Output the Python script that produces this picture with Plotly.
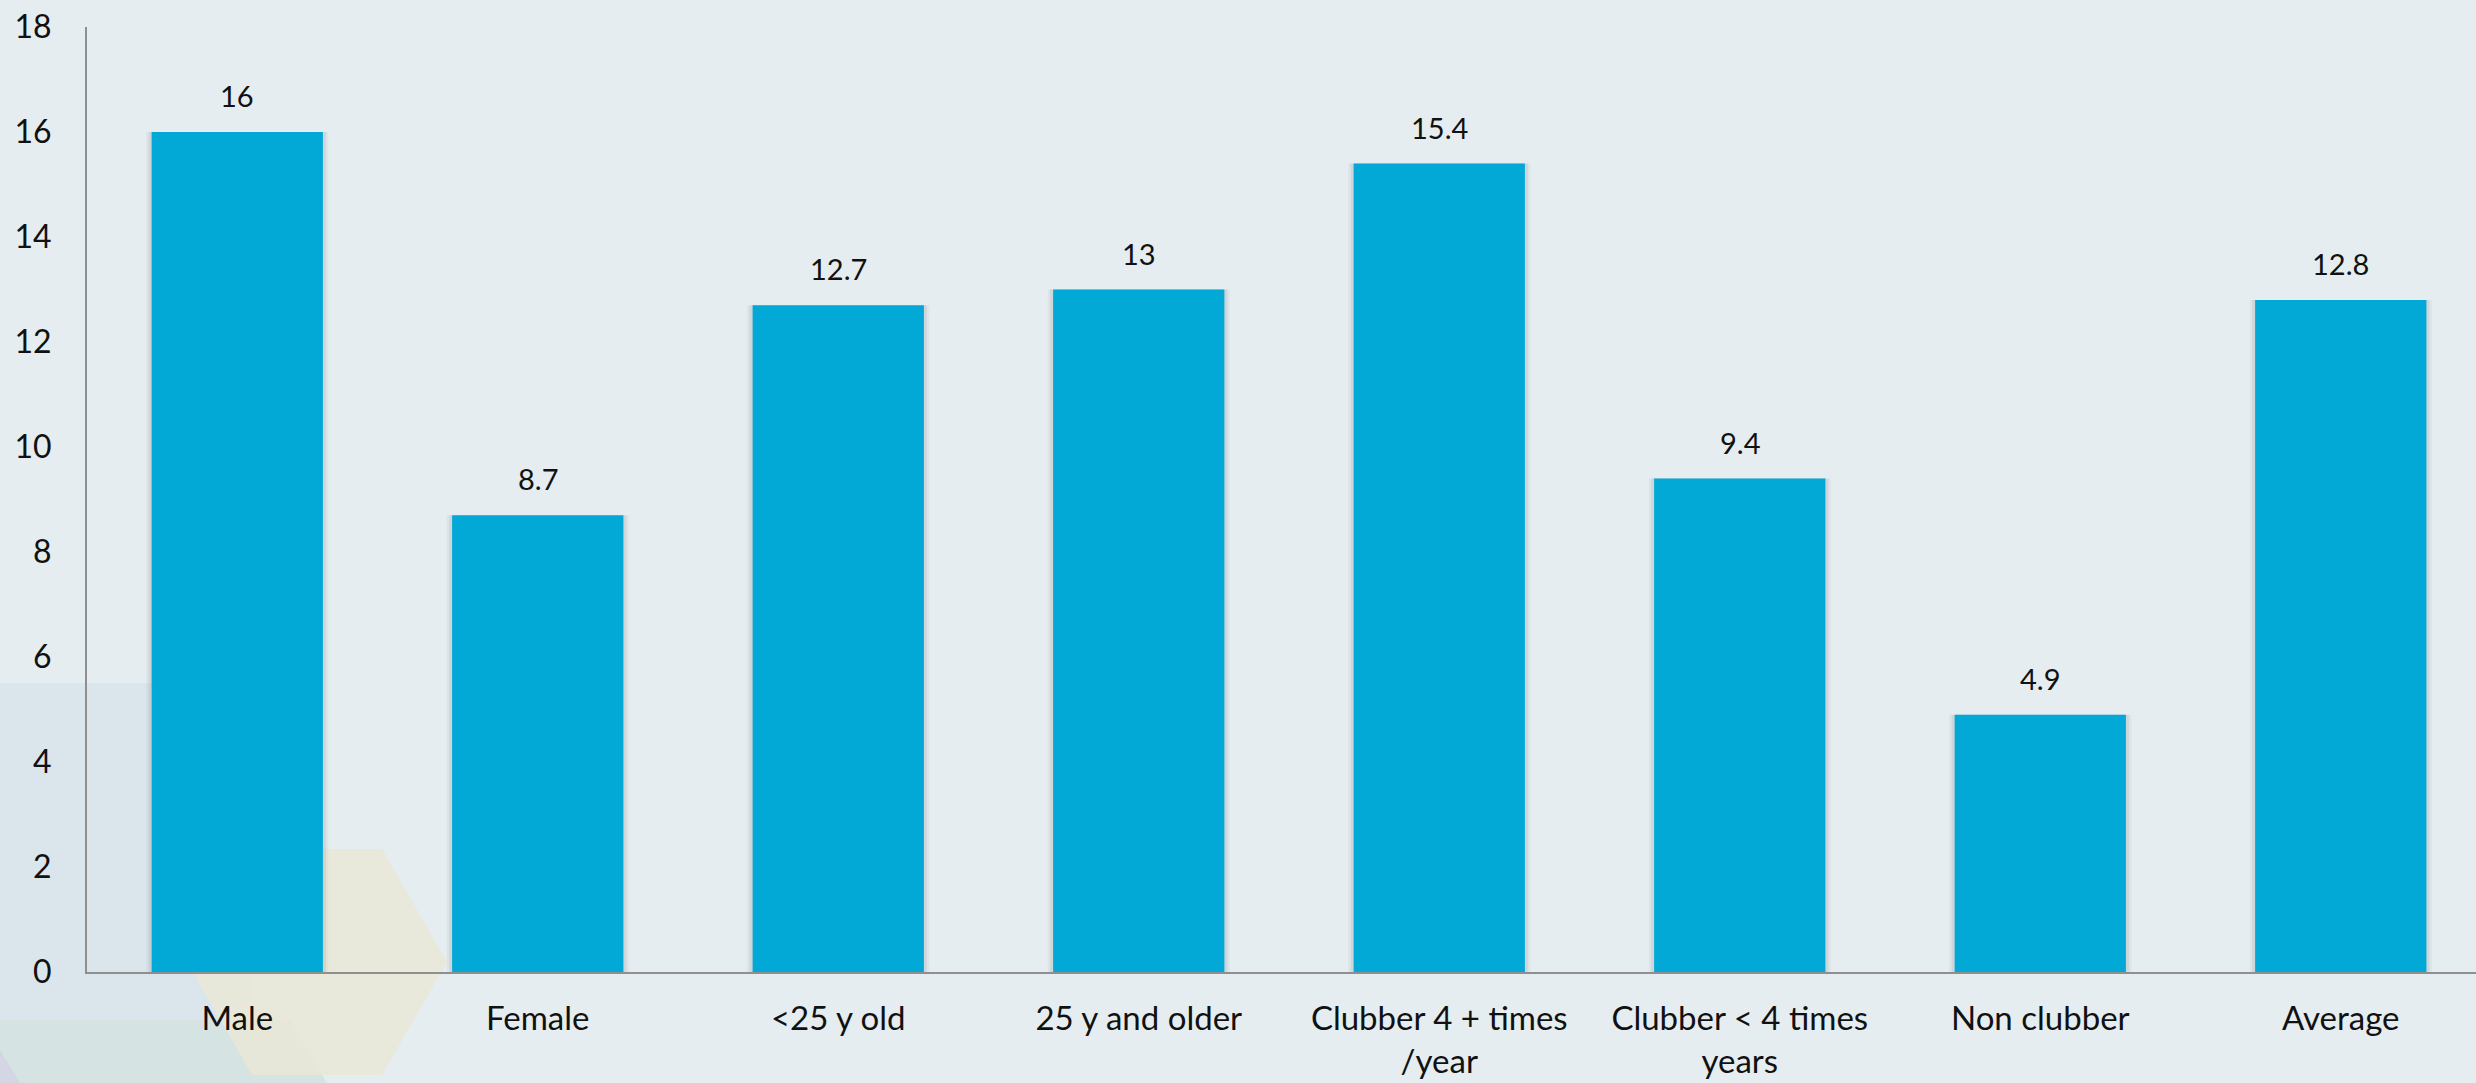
import plotly.graph_objects as go

# ---- data ----
categories = ["Male", "Female", "<25 y old", "25 y and older",
              "Clubber 4 + times /year", "Clubber < 4 times years",
              "Non clubber", "Average"]
tick_labels = ["Male", "Female", "&lt;25 y old", "25 y and older",
               "Clubber 4 + times<br>/year", "Clubber &lt; 4 times<br>years",
               "Non clubber", "Average"]
values = [16, 8.7, 12.7, 13, 15.4, 9.4, 4.9, 12.8]
value_labels = ["16", "8.7", "12.7", "13", "15.4", "9.4", "4.9", "12.8"]
y_ticks = [0, 2, 4, 6, 8, 10, 12, 14, 16, 18]

W, H = 2476, 1083
ML, MR, MT, MB = 87, 0, 27, 111
PW, PH = W - ML - MR, H - MT - MB

BG = "#E5EDF0"
BAR = "#02A8D6"
FONT = "Lato"


def px(x):
    return (x - ML) / PW


def py(y):
    return (H - MB - y) / PH


def poly(points):
    d = "M " + " L ".join(f"{px(x):.5f},{py(y):.5f}" for x, y in points) + " Z"
    return d


fig = go.Figure()

# soft shadows behind bars
for extra, alpha in [(0.036, 0.05), (0.02, 0.09)]:
    fig.add_trace(go.Bar(
        x=categories, y=values, width=0.57 + extra,
        marker=dict(color=f"rgba(70,80,90,{alpha})", line=dict(width=0)),
        hoverinfo="skip", showlegend=False,
    ))

fig.add_trace(go.Bar(
    x=categories, y=values, width=0.57,
    marker=dict(color=BAR, line=dict(width=0)),
    showlegend=False,
))

annotations = []
for c, v, t in zip(categories, values, value_labels):
    annotations.append(dict(
        x=c, y=v, text=t, showarrow=False, xref="x", yref="y",
        yanchor="bottom", yshift=17,
        font=dict(family=FONT, size=29, color="#111111"),
    ))

# decorative background shapes (bottom-left corner)
shapes = [
    dict(type="path", xref="paper", yref="paper", layer="below",
         path=poly([(0, 683), (250, 683), (250, H), (0, H)]),
         fillcolor="#DAE6EB", line=dict(width=0)),
    dict(type="path", xref="paper", yref="paper", layer="below",
         path=poly([(0, 1020), (290, 1020), (327, H), (0, H)]),
         fillcolor="#D5E3E3", line=dict(width=0)),
    dict(type="path", xref="paper", yref="paper", layer="below",
         path=poly([(187, 962), (252, 849), (382, 849), (447, 962),
                    (382, 1075), (252, 1075)]),
         fillcolor="rgba(233,232,215,0.85)", line=dict(width=0)),
    dict(type="path", xref="paper", yref="paper", layer="below",
         path=poly([(0, 1050), (20, H), (0, H)]),
         fillcolor="#D4D6E3", line=dict(width=0)),
]

fig.update_layout(
    width=W, height=H,
    margin=dict(l=ML, r=MR, t=MT, b=MB, pad=0),
    paper_bgcolor=BG, plot_bgcolor="rgba(0,0,0,0)",
    barmode="overlay",
    showlegend=False,
    font=dict(family=FONT, color="#111111"),
    annotations=annotations,
    shapes=shapes,
    xaxis=dict(
        type="category", range=[-0.5, 7.45],
        tickmode="array", tickvals=categories, ticktext=tick_labels,
        tickfont=dict(family=FONT, size=33, color="#111111"),
        showgrid=False, zeroline=False,
        showline=True, linecolor="#8F8F8F", linewidth=2,
        ticks="", ticklabelstandoff=16,
    ),
    yaxis=dict(
        range=[0, 18], tickmode="array", tickvals=y_ticks,
        tickfont=dict(family=FONT, size=32, color="#111111"),
        showgrid=False, zeroline=False,
        showline=True, linecolor="#8F8F8F", linewidth=2,
        ticks="", ticklabelstandoff=27,
    ),
)

fig.write_html(
    "out.html",
    config={"displayModeBar": False},
    post_script="document.body.style.margin='0';"
                "document.body.style.overflow='hidden';"
                "document.documentElement.style.overflow='hidden';",
)
